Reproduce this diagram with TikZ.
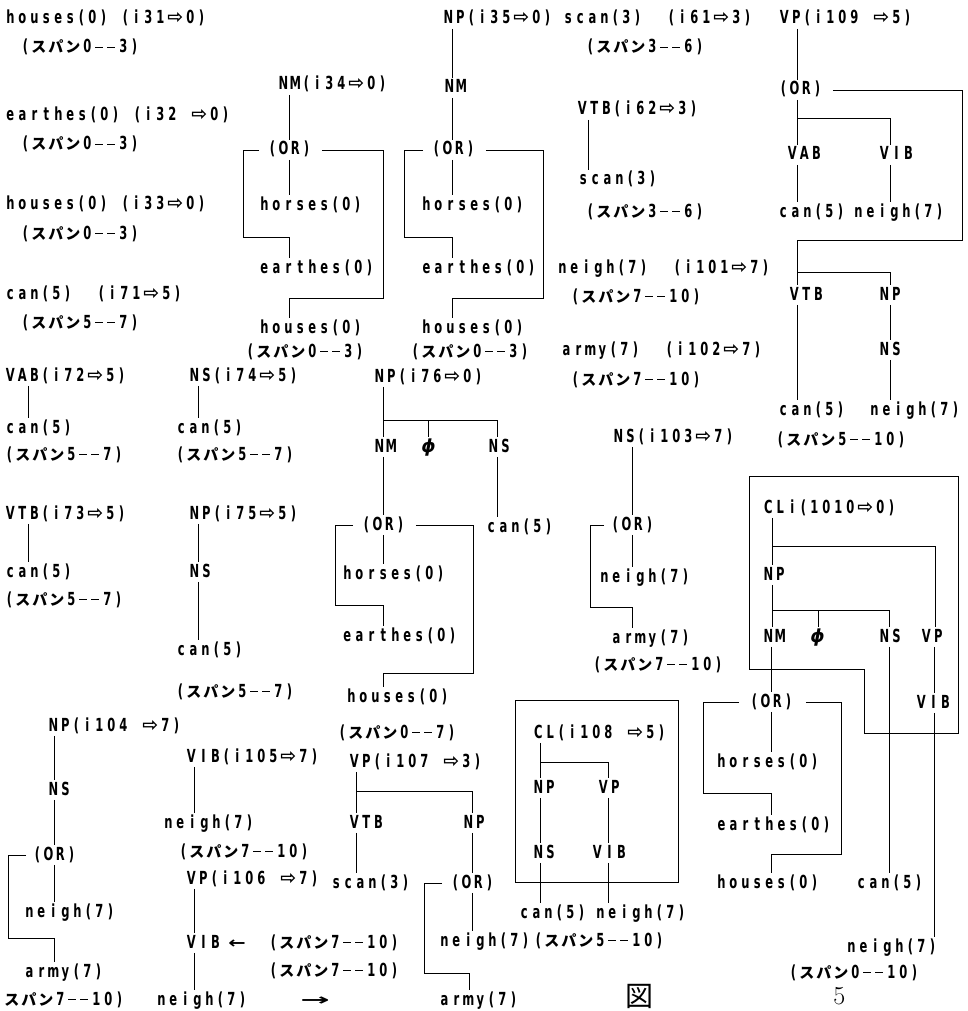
\documentclass[tikz,border=0pt]{standalone}
\usepackage{fontspec}
\usepackage{graphicx}
\newfontfamily\lat{DejaVu Sans}[FakeStretch=0.64]
\newfontfamily\cjk{Noto Sans CJK JP}
\newfontfamily\djv{DejaVu Sans}
\newlength\cw \setlength\cw{12pt}
\newlength\pw \setlength\pw{10pt}
\newlength\kw \setlength\kw{17pt}
\newlength\aw \setlength\aw{18pt}
\newcommand\latf{\lat\bfseries\fontsize{18}{18}\selectfont}
\newcommand\kS{{\cjk\fontsize{15}{15}\selectfont ス}}
\newcommand\kP{{\cjk\fontsize{15}{15}\selectfont パ}}
\newcommand\kN{{\cjk\fontsize{15}{15}\selectfont ン}}
\newcommand\Ar{{\djv\fontsize{19}{19}\selectfont ⇨}}
\newcommand\phis{{\djv\bfseries\itshape\fontsize{18}{18}\selectfont ϕ}}
\newcommand\larr{{\djv\fontsize{16}{16}\selectfont\scalebox{1.3}[1]{←}}}
\newcommand\rarr{{\djv\fontsize{16}{16}\selectfont\scalebox{2.2}[1]{→}}}
\def\twend{\twend}
\def\tw#1{\twloop#1\twend}
\def\twloop#1{\ifx#1\twend\else\twchar{#1}\expandafter\twloop\fi}
\def\twchar#1{%
 \ifx#1(\makebox[\pw]{#1}\else
 \ifx#1)\makebox[\pw]{#1}\else
 \ifx#1-\makebox[\cw]{\rule[4.6pt]{8pt}{1.5pt}}\else
 \ifx#1\Ar\makebox[\aw]{#1}\else
 \ifx#1\kS\makebox[\kw]{#1}\else
 \ifx#1\kP\makebox[\kw]{#1}\else
 \ifx#1\kN\makebox[\kw]{#1}\else
 \makebox[\cw]{#1}\fi\fi\fi\fi\fi\fi\fi}
\newcommand\vcon[3]{\draw (#3,0 |- #1.south) -- (#3,0 |- #2.north);}
\begin{document}
\begin{tikzpicture}[x=1pt,y=-1pt,line width=0.8pt,
  t/.style={anchor=west,inner xsep=0pt,inner ysep=1.5pt,text height=13pt,text depth=3pt,font=\latf}]
\fill[white] (0,0) rectangle (968,1011);
\useasboundingbox (0,0) rectangle (968,1011);
% column A
\node[t] (a1) at (4,19) {\tw{houses(0)~(i31\Ar0)}};
\node[t] (a2) at (20,48) {\tw{(\kS\kP\kN0--3)}};
\node[t] (a3) at (4,116) {\tw{earthes(0)~(i32~\Ar0)}};
\node[t] (a4) at (20,145) {\tw{(\kS\kP\kN0--3)}};
\node[t] (a5) at (4,204) {\tw{houses(0)~(i33\Ar0)}};
\node[t] (a6) at (20,234) {\tw{(\kS\kP\kN0--3)}};
\node[t] (a7) at (4,294) {\tw{can(5)~~(i71\Ar5)}};
\node[t] (a8) at (20,323) {\tw{(\kS\kP\kN5--7)}};
\node[t] (a9) at (4,376) {\tw{VAB(i72\Ar5)}};
\node[t] (a10) at (4,428) {\tw{can(5)}};
\node[t] (a11) at (4,455) {\tw{(\kS\kP\kN5--7)}};
\node[t] (a12) at (4,514) {\tw{VTB(i73\Ar5)}};
\node[t] (a13) at (4,572) {\tw{can(5)}};
\node[t] (a14) at (4,600) {\tw{(\kS\kP\kN5--7)}};
\vcon{a9}{a10}{28}
\vcon{a12}{a13}{28}
% column B
\node[t] (b1) at (188,376) {\tw{NS(i74\Ar5)}};
\node[t] (b2) at (175,428) {\tw{can(5)}};
\node[t] (b3) at (175,455) {\tw{(\kS\kP\kN5--7)}};
\node[t] (b4) at (188,514) {\tw{NP(i75\Ar5)}};
\node[t] (b5) at (188,572) {\tw{NS}};
\node[t] (b6) at (175,650) {\tw{can(5)}};
\node[t] (b7) at (175,692) {\tw{(\kS\kP\kN5--7)}};
\vcon{b1}{b2}{198}
\vcon{b4}{b5}{198}
\vcon{b5}{b6}{198}
% NM(i34)
\node[t] (n1) at (277,85) {\tw{NM(i34\Ar0)}};
\node[t] (n2) at (267,150) {\tw{(OR)}};
\node[t] (n3) at (258,205) {\tw{horses(0)}};
\node[t] (n4) at (258,268) {\tw{earthes(0)}};
\node[t] (n5) at (258,328) {\tw{houses(0)}};
\node[t] (n6) at (245,352) {\tw{(\kS\kP\kN0--3)}};
\vcon{n1}{n2}{289}
\vcon{n2}{n3}{289}
\draw ([xshift=-8pt]n2.west) -- (243,0 |- n2.west) -- (243,237) -- (289,237) -- (289,0 |- n4.north);
\draw ([xshift=10pt]n2.east) -- (383,0 |- n2.east) -- (383,298) -- (289,298) -- (289,0 |- n5.north);
% NP(i35)
\node[t] (p1) at (442,19) {\tw{NP(i35\Ar0)}};
\node[t] (p2) at (443,88) {\tw{NM}};
\node[t] (p3) at (431,150) {\tw{(OR)}};
\node[t] (p4) at (420,205) {\tw{horses(0)}};
\node[t] (p5) at (420,268) {\tw{earthes(0)}};
\node[t] (p6) at (420,328) {\tw{houses(0)}};
\node[t] (p7) at (410,352) {\tw{(\kS\kP\kN0--3)}};
\vcon{p1}{p2}{452}
\vcon{p2}{p3}{452}
\vcon{p3}{p4}{452}
\draw ([xshift=-8pt]p3.west) -- (404,0 |- p3.west) -- (404,237) -- (452,237) -- (452,0 |- p5.north);
\draw ([xshift=10pt]p3.east) -- (543,0 |- p3.east) -- (543,298) -- (452,298) -- (452,0 |- p6.north);
% scan column
\node[t] (s1) at (562,19) {\tw{scan(3)~~(i61\Ar3)}};
\node[t] (s2) at (585,48) {\tw{(\kS\kP\kN3--6)}};
\node[t] (s3) at (576,110) {\tw{VTB(i62\Ar3)}};
\node[t] (s4) at (577,180) {\tw{scan(3)}};
\node[t] (s5) at (585,212) {\tw{(\kS\kP\kN3--6)}};
\node[t] (s6) at (556,268) {\tw{neigh(7)~~(i101\Ar7)}};
\node[t] (s7) at (570,297) {\tw{(\kS\kP\kN7--10)}};
\node[t] (s8) at (560,350) {\tw{army(7)~~(i102\Ar7)}};
\node[t] (s9) at (570,380) {\tw{(\kS\kP\kN7--10)}};
\vcon{s3}{s4}{588}
% VP(i109)
\node[t] (v1) at (778,19) {\tw{VP(i109~\Ar5)}};
\node[t] (v2) at (778,90) {\tw{(OR)}};
\node[t] (v4) at (786,155) {\tw{VAB}};
\node[t] (v5) at (878,155) {\tw{VIB}};
\node[t] (v6) at (777,212) {\tw{can(5)}};
\node[t] (v7) at (852,212) {\tw{neigh(7)}};
\node[t] (v8) at (788,295) {\tw{VTB}};
\node[t] (v9) at (878,295) {\tw{NP}};
\node[t] (v10) at (878,350) {\tw{NS}};
\node[t] (v11) at (777,410) {\tw{can(5)}};
\node[t] (v12) at (868,410) {\tw{neigh(7)}};
\node[t] (v13) at (775,440) {\tw{(\kS\kP\kN5--10)}};
\vcon{v1}{v2}{797}
\vcon{v2}{v4}{797}
\draw (797,118) -- (890,118) -- (890,0 |- v5.north);
\vcon{v4}{v6}{797}
\vcon{v5}{v7}{890}
\draw ([xshift=10pt]v2.east) -- (962,0 |- v2.east) -- (962,240) -- (797,240) -- (797,0 |- v8.north);
\draw (797,272) -- (890,272) -- (890,0 |- v9.north);
\vcon{v8}{v11}{797}
\vcon{v9}{v10}{890}
\vcon{v10}{v12}{890}
% NP(i76)
\node[t] (q1) at (373,377) {\tw{NP(i76\Ar0)}};
\node[t] (q2) at (373,447) {\tw{NM}};
\node[t] (q3) at (421,447) {\phis};
\node[t] (q4) at (487,447) {\tw{NS}};
\node[t] (q5) at (361,525) {\tw{(OR)}};
\node[t] (q10) at (485,527) {\tw{can(5)}};
\node[t] (q6) at (341,574) {\tw{horses(0)}};
\node[t] (q7) at (341,636) {\tw{earthes(0)}};
\node[t] (q8) at (345,697) {\tw{houses(0)}};
\node[t] (q9) at (337,733) {\tw{(\kS\kP\kN0--7)}};
\vcon{q1}{q2}{383}
\draw (383,420) -- (497,420) -- (497,0 |- q4.north);
\draw (428,420) -- (428,0 |- q3.north);
\vcon{q2}{q5}{383}
\vcon{q5}{q6}{383}
\vcon{q4}{q10}{497}
\draw ([xshift=-8pt]q5.west) -- (335,0 |- q5.west) -- (335,605) -- (383,605) -- (383,0 |- q7.north);
\draw ([xshift=10pt]q5.east) -- (473,0 |- q5.east) -- (473,673) -- (383,673) -- (383,0 |- q8.north);
% NS(i103)
\node[t] (r1) at (612,437) {\tw{NS(i103\Ar7)}};
\node[t] (r2) at (610,525) {\tw{(OR)}};
\node[t] (r3) at (598,577) {\tw{neigh(7)}};
\node[t] (r4) at (610,638) {\tw{army(7)}};
\node[t] (r5) at (592,665) {\tw{(\kS\kP\kN7--10)}};
\vcon{r1}{r2}{632}
\vcon{r2}{r3}{632}
\draw ([xshift=-6pt]r2.west) -- (590,0 |- r2.west) -- (590,607) -- (632,607) -- (632,0 |- r4.north);
% CLi
\draw (749,476) -- (958,476) -- (958,733) -- (864,733) -- (864,669) -- (749,669) -- cycle;
\node[t] (c1) at (762,508) {\tw{CLi(1010\Ar0)}};
\node[t] (c2) at (762,575) {\tw{NP}};
\node[t] (c3) at (762,637) {\tw{NM}};
\node[t] (c4) at (810,637) {\phis};
\node[t] (c5) at (878,637) {\tw{NS}};
\node[t] (c6) at (920,637) {\tw{VP}};
\node[t] (c7) at (749,702) {\tw{(OR)}};
\node[t] (c8) at (915,703) {\tw{VIB}};
\node[t] (c9) at (715,762) {\tw{horses(0)}};
\node[t] (c10) at (715,825) {\tw{earthes(0)}};
\node[t] (c11) at (715,883) {\tw{houses(0)}};
\node[t] (c12) at (855,883) {\tw{can(5)}};
\node[t] (c13) at (845,947) {\tw{neigh(7)}};
\node[t] (c14) at (788,973) {\tw{(\kS\kP\kN0--10)}};
\vcon{c1}{c2}{772}
\draw (772,546) -- (935,546) -- (935,0 |- c6.north);
\vcon{c2}{c3}{772}
\draw (772,610) -- (889,610) -- (889,0 |- c5.north);
\draw (818,610) -- (818,0 |- c4.north);
\vcon{c3}{c7}{771}
\vcon{c7}{c9}{771}
\vcon{c6}{c8}{934}
\vcon{c8}{c13}{934}
\vcon{c5}{c12}{889}
\draw ([xshift=-10pt]c7.west) -- (703,0 |- c7.west) -- (703,793) -- (771,793) -- (771,0 |- c10.north);
\draw ([xshift=12pt]c7.east) -- (841,0 |- c7.east) -- (841,854) -- (771,854) -- (771,0 |- c11.north);
% CL(i108)
\draw (515,700) rectangle (678,882);
\node[t] (k1) at (532,733) {\tw{CL(i108~\Ar5)}};
\node[t] (k2) at (532,788) {\tw{NP}};
\node[t] (k3) at (597,788) {\tw{VP}};
\node[t] (k4) at (532,853) {\tw{NS}};
\node[t] (k5) at (591,853) {\tw{VIB}};
\node[t] (k6) at (518,913) {\tw{can(5)}};
\node[t] (k7) at (594,913) {\tw{neigh(7)}};
\node[t] (k8) at (533,941) {\tw{(\kS\kP\kN5--10)}};
\vcon{k1}{k2}{540}
\draw (540,762) -- (608,762) -- (608,0 |- k3.north);
\vcon{k2}{k4}{540}
\vcon{k4}{k6}{540}
\vcon{k3}{k5}{608}
\vcon{k5}{k7}{608}
% VP(i107)
\node[t] (w1) at (348,762) {\tw{VP(i107~\Ar3)}};
\node[t] (w2) at (348,823) {\tw{VTB}};
\node[t] (w3) at (462,823) {\tw{NP}};
\node[t] (w4) at (330,883) {\tw{scan(3)}};
\node[t] (w5) at (450,883) {\tw{(OR)}};
\node[t] (w6) at (438,941) {\tw{neigh(7)}};
\node[t] (w7) at (438,1000) {\tw{army(7)}};
\vcon{w1}{w2}{356}
\draw (356,791) -- (472,791) -- (472,0 |- w3.north);
\vcon{w2}{w4}{356}
\vcon{w3}{w5}{472}
\vcon{w5}{w6}{472}
\draw ([xshift=-8pt]w5.west) -- (424,0 |- w5.west) -- (424,973) -- (469,973) -- (469,0 |- w7.north);
% bottom left
\node[t] (l1) at (47,726) {\tw{NP(i104~\Ar7)}};
\node[t] (l2) at (47,790) {\tw{NS}};
\node[t] (l3) at (32,855) {\tw{(OR)}};
\node[t] (l4) at (23,912) {\tw{neigh(7)}};
\node[t] (l5) at (23,972) {\tw{army(7)}};
\node[t] (l6) at (3,1000) {\tw{\kS\kP\kN7--10)}};
\vcon{l1}{l2}{54}
\vcon{l2}{l3}{54}
\vcon{l3}{l4}{54}
\draw ([xshift=-6pt]l3.west) -- (8,0 |- l3.west) -- (8,938) -- (54,938) -- (54,0 |- l5.north);
% column B bottom
\node[t] (m1) at (185,757) {\tw{VIB(i105\Ar7)}};
\node[t] (m2) at (162,823) {\tw{neigh(7)}};
\node[t] (m3) at (178,852) {\tw{(\kS\kP\kN7--10)}};
\node[t] (m4) at (185,879) {\tw{VP(i106~\Ar7)}};
\node[t] (m5) at (185,943) {\tw{VIB}};
\node[t] (m6) at (228,943) {\larr};
\node[t] (m7) at (268,943) {\tw{(\kS\kP\kN7--10)}};
\node[t] (m8) at (268,971) {\tw{(\kS\kP\kN7--10)}};
\node[t] (m9) at (155,1000) {\tw{neigh(7)}};
\node[t] (m10) at (300,1000) {\rarr};
\vcon{m1}{m2}{194}
\vcon{m4}{m5}{194}
\vcon{m5}{m9}{194}
% caption
\node[anchor=west,inner sep=0pt] (fig) at (625,996) {\cjk\fontsize{28}{28}\selectfont 図};
\node[anchor=west,inner sep=0pt] (fignum) at (833,996) {\fontsize{26}{26}\selectfont 5};
\end{tikzpicture}
\end{document}
